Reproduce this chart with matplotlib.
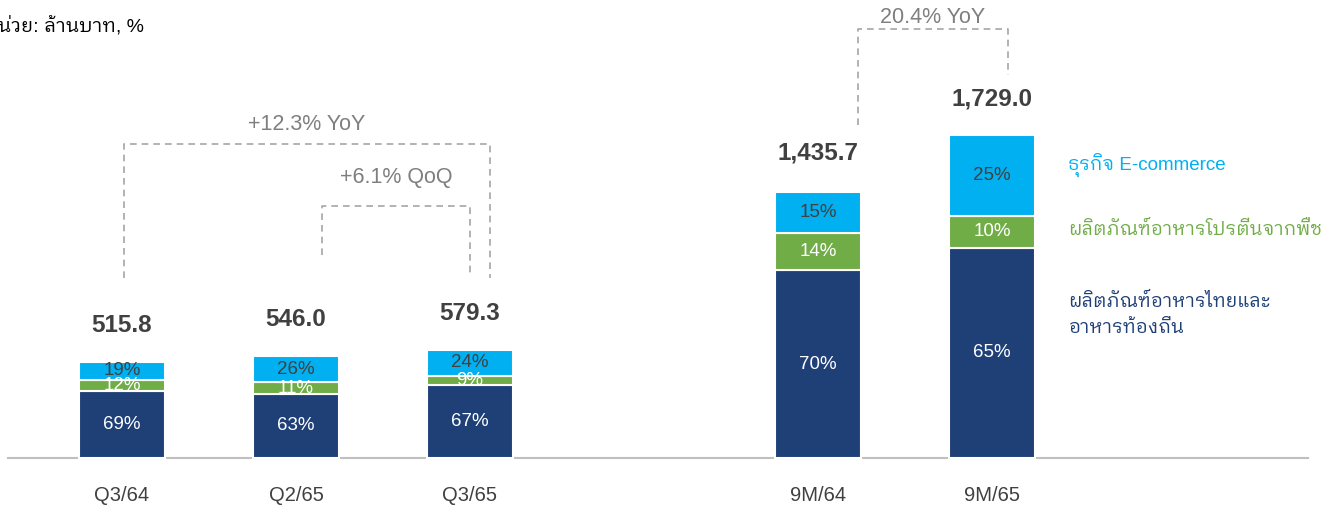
import matplotlib
matplotlib.use("Agg")
import matplotlib.pyplot as plt

plt.rcParams['font.family'] = ['Liberation Sans', 'IBM Plex Sans Thai Looped', 'DejaVu Sans']

# data
categories = ['Q3/64', 'Q2/65', 'Q3/65', '9M/64', '9M/65']
totals = [515.8, 546.0, 579.3, 1435.7, 1729.0]
total_labels = ['515.8', '546.0', '579.3', '1,435.7', '1,729.0']
thai_food = [69, 63, 67, 70, 65]
plant_protein = [12, 11, 9, 14, 10]
ecommerce = [19, 26, 24, 15, 25]
series_names = ['ผลิตภัณฑ์อาหารไทยและ\nอาหารท้องถิ่น', 'ผลิตภัณฑ์อาหารโปรตีนจากพืช', 'ธุรกิจ E-commerce']
positions = [0, 1, 2, 4, 5]

navy = '#1F3F77'
green = '#70AD47'
cyan = '#00B0F0'
dark = '#404040'
grey = '#7F7F7F'

fig = plt.figure(figsize=(13.28, 5.08), dpi=100)
ax = fig.add_axes([0, 0, 1, 1])
ax.set_xlim(-0.701, 6.931)
ax.set_ylim(-267.5, 2450)
ax.axis('off')

segments = [(thai_food, navy, 'white'), (plant_protein, green, 'white'), (ecommerce, cyan, dark)]
bottoms = [0.0] * len(totals)
for shares, color, txtcolor in segments:
    heights = [t * s / 100 for t, s in zip(totals, shares)]
    ax.bar(positions, heights, width=0.49, bottom=bottoms, color=color,
           edgecolor='white', linewidth=1.5, zorder=3)
    for x, b, h, s in zip(positions, bottoms, heights, shares):
        ax.text(x, b + h / 2, f'{s}%', ha='center', va='center',
                color=txtcolor, fontsize=13.5, zorder=4)
    bottoms = [b + h for b, h in zip(bottoms, heights)]

for x, t, lab in zip(positions, totals, total_labels):
    ax.annotate(lab, (x, t), xytext=(0, 26), textcoords='offset points',
                ha='center', va='center', fontsize=17.5, fontweight='bold', color=dark)

# baseline and category labels
ax.plot([-0.655, 6.816], [0, 0], color='#BFBFBF', lw=1.5, zorder=2)
for x, c in zip(positions, categories):
    ax.text(x, -200, c, ha='center', va='center', fontsize=14.5, color=dark)

# growth brackets
def bracket(x0, x1, y0, y1, ytop, label, ylab):
    ax.plot([x0, x0, x1, x1], [y0, ytop, ytop, y1], color='#A6A6A6',
            lw=1.2, ls=(0, (4, 3)), zorder=1)
    ax.text((x0 + x1) / 2, ylab, label, ha='center', va='center', fontsize=15.5, color=grey)

bracket(positions[0] + 0.01, positions[2] + 0.115, 963, 963, 1680, '+12.3% YoY', 1782)
bracket(positions[1] + 0.15, positions[2], 1086, 979, 1348, '+6.1% QoQ', 1503)
bracket(positions[3] + 0.23, positions[4] + 0.09, 1782, 2049, 2295, '20.4% YoY', 2355)

# series names at right
ax.text(5.437, 1568, series_names[2], color=cyan, fontsize=13.5, va='center')
ax.text(5.437, 1220, series_names[1], color=green, fontsize=13.5, va='center')
ax.text(5.437, 765, series_names[0], color=navy, fontsize=13.5, va='center',
        linespacing=1.7)

fig.text(-0.012, 0.95, 'หน่วย: ล้านบาท, %', fontsize=14, color='black', va='center')

fig.savefig('out.png', dpi=100)
